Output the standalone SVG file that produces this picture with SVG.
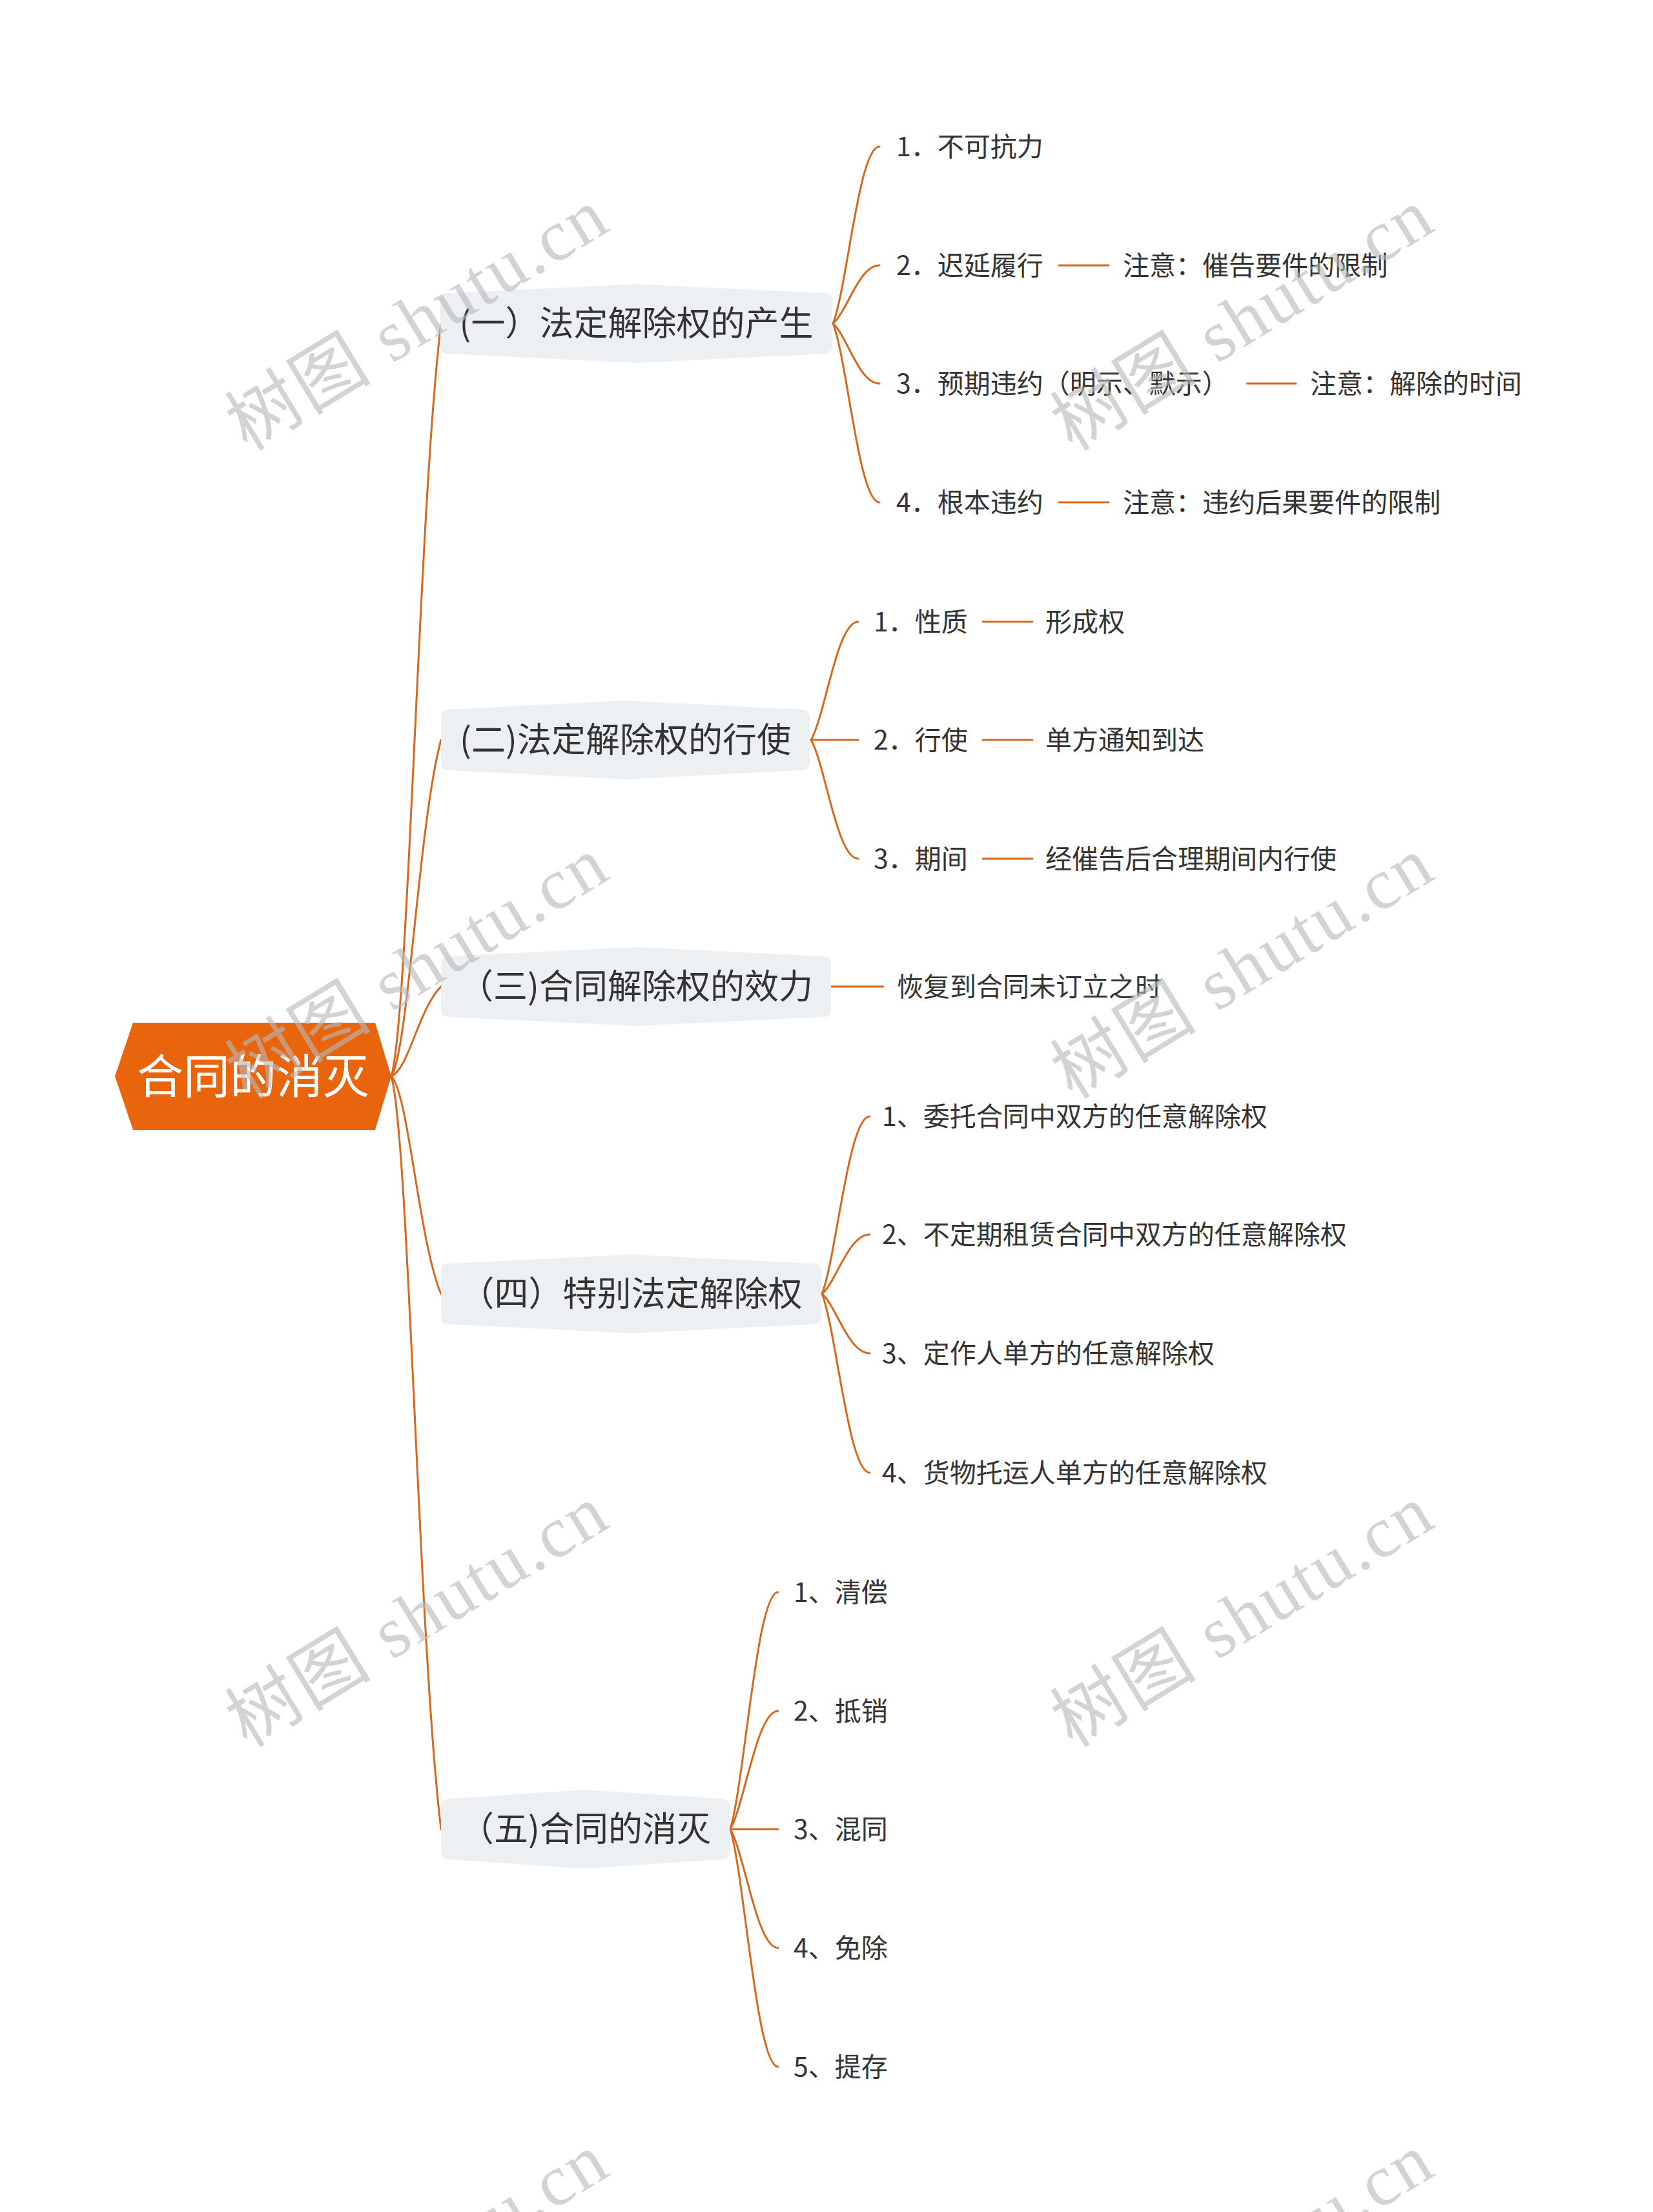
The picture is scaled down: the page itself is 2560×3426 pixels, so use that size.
<svg xmlns="http://www.w3.org/2000/svg" width="2560" height="3426" viewBox="0 0 2560 3426">
<style>
text{font-family:"Noto Sans CJK SC","Noto Sans",sans-serif;}
.conn{fill:none;stroke:#DA661C;stroke-width:3;stroke-linecap:round;}
.root{fill:#E8640D;}
.rootT{font-size:72px;fill:#FFFFFF;text-anchor:middle;}
.l1{fill:#EDF0F3;}
.l1T{font-size:53px;fill:#333333;text-anchor:middle;}
.leaf{font-size:41px;fill:#333333;}
.wm{font-family:"Liberation Serif","Noto Sans CJK SC",serif;font-size:112px;fill:#B8B8B8;fill-opacity:0.62;}
</style>
<rect x="0" y="0" width="2560" height="3426" fill="#FFFFFF"/>

<g id="connectors">
<path class="conn" d="M606,1667 C633,1574 648,792 683,501"/>
<path class="conn" d="M606,1667 C633,1625 648,1276 683,1146"/>
<path class="conn" d="M606,1667 C633,1656 648,1563 683,1528"/>
<path class="conn" d="M606,1667 C633,1694 648,1920 683,2004"/>
<path class="conn" d="M606,1667 C633,1760 648,2542 683,2833"/>

<path class="conn" d="M1290,501 C1312,446 1330,227 1362,227"/>
<path class="conn" d="M1290,501 C1312,483 1330,411 1362,411"/>
<path class="conn" d="M1290,501 C1312,520 1330,594 1362,594"/>
<path class="conn" d="M1290,501 C1312,556 1330,778 1362,778"/>
<path class="conn" d="M1640,411 L1717,411"/>
<path class="conn" d="M1931,594 L2007,594"/>
<path class="conn" d="M1640,778 L1717,778"/>

<path class="conn" d="M1256,1146 C1278,1109 1296,963 1329,963"/>
<path class="conn" d="M1256,1146 L1329,1146"/>
<path class="conn" d="M1256,1146 C1278,1183 1296,1330 1329,1330"/>
<path class="conn" d="M1522,963 L1599,963"/>
<path class="conn" d="M1522,1146 L1599,1146"/>
<path class="conn" d="M1522,1330 L1599,1330"/>

<path class="conn" d="M1288,1528 L1368,1528"/>

<path class="conn" d="M1273,2004 C1295,1949 1314,1729 1347,1729"/>
<path class="conn" d="M1273,2004 C1295,1986 1314,1912 1347,1912"/>
<path class="conn" d="M1273,2004 C1295,2022 1314,2096 1347,2096"/>
<path class="conn" d="M1273,2004 C1295,2059 1314,2281 1347,2281"/>

<path class="conn" d="M1131,2833 C1153,2760 1172,2466 1205,2466"/>
<path class="conn" d="M1131,2833 C1153,2796 1172,2650 1205,2650"/>
<path class="conn" d="M1131,2833 L1205,2833"/>
<path class="conn" d="M1131,2833 C1153,2870 1172,3017 1205,3017"/>
<path class="conn" d="M1131,2833 C1153,2907 1172,3201 1205,3201"/>
</g>

<g id="root">
<path class="root" d="M178,1667 L206,1584 L581,1584 L606,1667 L581,1750 L206,1750 Z"/>
<text class="rootT" x="392" y="1693">合同的消灭</text>
</g>

<g id="n1">
<path class="l1" d="M694,454 L985.5,440 L1277,454 Q1289,454 1289,466 L1289,536 Q1289,548 1277,548 L985.5,562 L694,548 Q682,548 682,536 L682,466 Q682,454 694,454 Z"/>
<text class="l1T" x="985.5" y="520">(一）法定解除权的产生</text>
</g>
<g id="n2">
<path class="l1" d="M695,1099 L968.5,1085 L1242,1099 Q1254,1099 1254,1111 L1254,1181 Q1254,1193 1242,1193 L968.5,1207 L695,1193 Q683,1193 683,1181 L683,1111 Q683,1099 695,1099 Z"/>
<text class="l1T" x="968.5" y="1165">(二)法定解除权的行使</text>
</g>
<g id="n3">
<path class="l1" d="M695,1481 L985,1467 L1275,1481 Q1287,1481 1287,1493 L1287,1563 Q1287,1575 1275,1575 L985,1589 L695,1575 Q683,1575 683,1563 L683,1493 Q683,1481 695,1481 Z"/>
<text class="l1T" x="985" y="1547">（三)合同解除权的效力</text>
</g>
<g id="n4">
<path class="l1" d="M695,1957 L977.5,1943 L1260,1957 Q1272,1957 1272,1969 L1272,2039 Q1272,2051 1260,2051 L977.5,2065 L695,2051 Q683,2051 683,2039 L683,1969 Q683,1957 695,1957 Z"/>
<text class="l1T" x="977.5" y="2023">（四）特别法定解除权</text>
</g>
<g id="n5">
<path class="l1" d="M695,2786 L906.5,2772 L1118,2786 Q1130,2786 1130,2798 L1130,2868 Q1130,2880 1118,2880 L906.5,2894 L695,2880 Q683,2880 683,2868 L683,2798 Q683,2786 695,2786 Z"/>
<text class="l1T" x="906.5" y="2852">（五)合同的消灭</text>
</g>

<g id="n1-1"><text class="leaf" x="1388" y="242">1．不可抗力</text></g>
<g id="n1-2"><text class="leaf" x="1388" y="426">2．迟延履行</text></g>
<g id="n1-2-1"><text class="leaf" x="1739" y="426">注意：催告要件的限制</text></g>
<g id="n1-3"><text class="leaf" x="1388" y="609">3．预期违约（明示、默示）</text></g>
<g id="n1-3-1"><text class="leaf" x="2029" y="609">注意：解除的时间</text></g>
<g id="n1-4"><text class="leaf" x="1388" y="793">4．根本违约</text></g>
<g id="n1-4-1"><text class="leaf" x="1739" y="793">注意：违约后果要件的限制</text></g>

<g id="n2-1"><text class="leaf" x="1353" y="978">1．性质</text></g>
<g id="n2-1-1"><text class="leaf" x="1619" y="978">形成权</text></g>
<g id="n2-2"><text class="leaf" x="1353" y="1161">2．行使</text></g>
<g id="n2-2-1"><text class="leaf" x="1619" y="1161">单方通知到达</text></g>
<g id="n2-3"><text class="leaf" x="1353" y="1345">3．期间</text></g>
<g id="n2-3-1"><text class="leaf" x="1619" y="1345">经催告后合理期间内行使</text></g>

<g id="n3-1"><text class="leaf" x="1389" y="1543">恢复到合同未订立之时</text></g>

<g id="n4-1"><text class="leaf" x="1366" y="1744">1、委托合同中双方的任意解除权</text></g>
<g id="n4-2"><text class="leaf" x="1366" y="1927">2、不定期租赁合同中双方的任意解除权</text></g>
<g id="n4-3"><text class="leaf" x="1366" y="2111">3、定作人单方的任意解除权</text></g>
<g id="n4-4"><text class="leaf" x="1366" y="2296">4、货物托运人单方的任意解除权</text></g>

<g id="n5-1"><text class="leaf" x="1229" y="2481">1、清偿</text></g>
<g id="n5-2"><text class="leaf" x="1229" y="2665">2、抵销</text></g>
<g id="n5-3"><text class="leaf" x="1229" y="2848">3、混同</text></g>
<g id="n5-4"><text class="leaf" x="1229" y="3032">4、免除</text></g>
<g id="n5-5"><text class="leaf" x="1229" y="3216">5、提存</text></g>

<g id="watermarks">
<text class="wm" transform="translate(383,700) rotate(-31.4)" textLength="661" lengthAdjust="spacing">树图 shutu.cn</text>
<text class="wm" transform="translate(1661,700) rotate(-31.4)" textLength="661" lengthAdjust="spacing">树图 shutu.cn</text>
<text class="wm" transform="translate(383,1704) rotate(-31.4)" textLength="661" lengthAdjust="spacing">树图 shutu.cn</text>
<text class="wm" transform="translate(1661,1704) rotate(-31.4)" textLength="661" lengthAdjust="spacing">树图 shutu.cn</text>
<text class="wm" transform="translate(383,2708) rotate(-31.4)" textLength="661" lengthAdjust="spacing">树图 shutu.cn</text>
<text class="wm" transform="translate(1661,2708) rotate(-31.4)" textLength="661" lengthAdjust="spacing">树图 shutu.cn</text>
<text class="wm" transform="translate(383,3712) rotate(-31.4)" textLength="661" lengthAdjust="spacing">树图 shutu.cn</text>
<text class="wm" transform="translate(1661,3712) rotate(-31.4)" textLength="661" lengthAdjust="spacing">树图 shutu.cn</text>
</g>
</svg>
